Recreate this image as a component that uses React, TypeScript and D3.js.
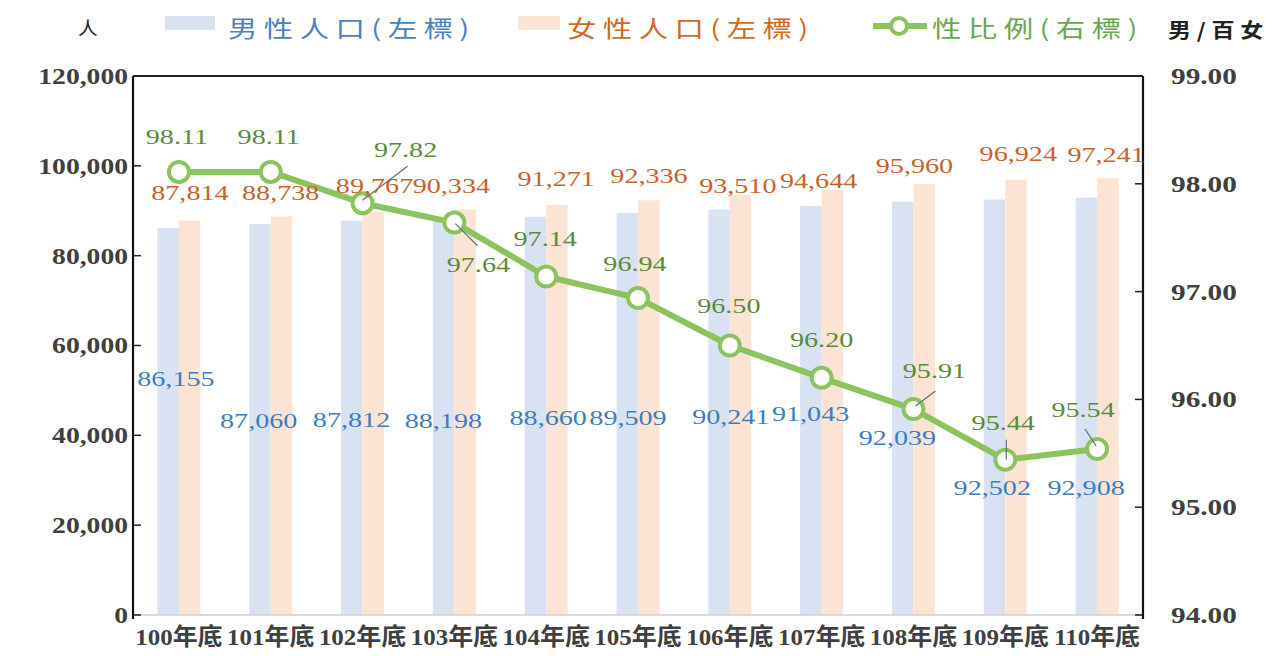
import React from "react";
import * as d3 from "d3";

const categories = ["100年底", "101年底", "102年底", "103年底", "104年底", "105年底", "106年底", "107年底", "108年底", "109年底", "110年底"];
const male = [86155, 87060, 87812, 88198, 88660, 89509, 90241, 91043, 92039, 92502, 92908];
const female = [87814, 88738, 89767, 90334, 91271, 92336, 93510, 94644, 95960, 96924, 97241];
const ratio = [98.11, 98.11, 97.82, 97.64, 97.14, 96.94, 96.5, 96.2, 95.91, 95.44, 95.54];
const leftTicks = [0, 20000, 40000, 60000, 80000, 100000, 120000];
const rightTicks = [94, 95, 96, 97, 98, 99];

// label layout offsets (dx, dy) relative to each mark
const ratioLabelOffset = [[-2, -36], [-2, -36], [43, -54], [24, 42], [-1, -38], [-3, -35], [-1, -40], [0, -39], [21, -39], [-2, -38], [-14, -40]];
const femaleLabelOffset = [[11, -28], [10, -24], [12, -27], [-3, -24], [10, -27], [11, -25], [8, -10], [-3, -10], [1, -19], [13, -26], [9, -24]];
const maleLabelOffset = [[-3, 150], [-12, 196], [-11, 199], [-11, 201], [2, 200], [-10, 204], [1, 206], [-11, 207], [-16, 236], [-13, 288], [-11, 289]];
const ratioLeader: (number[] | null)[] = [null, null, [0, -3, 45, -37], [1, 1, 23, 23], null, null, null, null, [2, -3, 22, -18], [1, -20, 1, 0], [-12, -20, -1, -3]];

const W = 1282, H = 656;
const L = 133, R = 1143, T = 76, B = 615;

const SERIF = "'Liberation Serif', 'Times New Roman', 'Noto Sans CJK TC', serif";
const CJK = "'Noto Sans CJK TC', 'Noto Sans CJK SC', sans-serif";

function SText(props: any) {
  const { x, y, sx = 1, children, ...rest } = props;
  return (
    <g transform={`translate(${x},${y}) scale(${sx},1)`}>
      <text x={0} y={0} dominantBaseline="central" {...rest}>{children}</text>
    </g>
  );
}

export default function App() {
  const x = d3.scaleBand().domain(categories).range([L, R]).padding(0);
  const yL = d3.scaleLinear().domain([0, 120000]).range([B, T]);
  const yR = d3.scaleLinear().domain([94, 99]).range([B, T]);
  const bw = 21.5;
  const cx = (c: string) => (x(c) as number) + x.bandwidth() / 2;
  const fmtN = d3.format(",");
  const fmtR = d3.format(".2f");
  const line = d3.line<number>().x((_, i) => cx(categories[i])).y((d) => yR(d));

  const blueBar = "#d9e2f3";
  const orangeBar = "#fce4d4";
  const green = "#8dc35e";
  const blueTxt = "#3d7dbf";
  const orangeTxt = "#c8622a";
  const greenTxt = "#5a8a3a";
  const axisTxt = "#404040";

  return (
    <svg width={W} height={H} style={{ position: "absolute", left: 0, top: 0, background: "#fff" }}>
      <rect x={0} y={0} width={W} height={H} fill="#fff" />
      {categories.map((c, i) => (
        <g key={c}>
          <rect x={cx(c) - bw} y={yL(male[i])} width={bw} height={B - yL(male[i])} fill={blueBar} />
          <rect x={cx(c)} y={yL(female[i])} width={bw} height={B - yL(female[i])} fill={orangeBar} />
        </g>
      ))}
      <line x1={L} x2={R} y1={B} y2={B} stroke="#d0d0d0" strokeWidth={1.5} />
      <line x1={L} x2={R} y1={T} y2={T} stroke="#222" strokeWidth={2} />
      <line x1={L} x2={L} y1={T} y2={B + 4} stroke="#111" strokeWidth={2.2} />
      <line x1={R} x2={R} y1={T} y2={B + 4} stroke="#111" strokeWidth={2.2} />
      {leftTicks.map((t) => (
        <g key={"l" + t}>
          <line x1={L} x2={L + 8} y1={yL(t)} y2={yL(t)} stroke="#222" strokeWidth={1.5} />
          <SText x={128} y={yL(t)} sx={1.15} textAnchor="end" fontFamily={SERIF} fontWeight="bold" fontSize={24} fill={axisTxt}>{fmtN(t)}</SText>
        </g>
      ))}
      {rightTicks.map((t) => (
        <g key={"r" + t}>
          <line x1={R - 8} x2={R} y1={yR(t)} y2={yR(t)} stroke="#222" strokeWidth={1.5} />
          <SText x={1171} y={yR(t)} sx={1.22} textAnchor="start" fontFamily={SERIF} fontWeight="bold" fontSize={24} fill={axisTxt}>{fmtR(t)}</SText>
        </g>
      ))}
      {categories.map((c) => (
        <SText key={"x" + c} x={cx(c)} y={637} sx={1.04} textAnchor="middle" fontFamily={SERIF} fontWeight="bold" fontSize={24} fill={axisTxt}>{c}</SText>
      ))}
      <path d={line(ratio) || ""} fill="none" stroke={green} strokeWidth={6} strokeLinejoin="round" />
      {ratio.map((v, i) => {
        const ld = ratioLeader[i];
        const px = cx(categories[i]);
        const py = yR(v);
        return (
          <g key={"m" + i}>
            <circle cx={px} cy={py} r={10} fill="#fff" stroke={green} strokeWidth={4} />
            {ld && <line x1={px + ld[0]} y1={py + ld[1]} x2={px + ld[2]} y2={py + ld[3]} stroke="#5d6b7e" strokeWidth={1.2} />}
          </g>
        );
      })}
      {categories.map((c, i) => (
        <SText key={"fl" + i} x={cx(c) + femaleLabelOffset[i][0]} y={yL(female[i]) + femaleLabelOffset[i][1]} sx={1.28} textAnchor="middle" fontFamily={SERIF} fontSize={22} fill={orangeTxt}>{fmtN(female[i])}</SText>
      ))}
      {categories.map((c, i) => (
        <SText key={"ml" + i} x={cx(c) + maleLabelOffset[i][0]} y={yL(male[i]) + maleLabelOffset[i][1]} sx={1.28} textAnchor="middle" fontFamily={SERIF} fontSize={22} fill={blueTxt}>{fmtN(male[i])}</SText>
      ))}
      {categories.map((c, i) => (
        <SText key={"rl" + i} x={cx(c) + ratioLabelOffset[i][0]} y={yR(ratio[i]) + ratioLabelOffset[i][1]} sx={1.28} textAnchor="middle" fontFamily={SERIF} fontSize={22} fill={greenTxt}>{fmtR(ratio[i])}</SText>
      ))}
      <SText x={88} y={27} sx={1.1} textAnchor="middle" fontFamily={CJK} fontSize={18} fill="#222">人</SText>
      <rect x={165} y={16} width={50} height={14} fill={blueBar} />
      <SText x={228} y={27} sx={1.28} textAnchor="start" fontFamily={CJK} fontSize={23} letterSpacing={5} fill="#4f81bd">男性人口(左標)</SText>
      <rect x={518} y={16} width={42} height={14} fill={orangeBar} />
      <SText x={567} y={27} sx={1.28} textAnchor="start" fontFamily={CJK} fontSize={23} letterSpacing={5} fill="#d2691e">女性人口(左標)</SText>
      <line x1={873} x2={927} y1={26} y2={26} stroke={green} strokeWidth={6} />
      <circle cx={899} cy={26} r={8} fill="#fff" stroke={green} strokeWidth={4} />
      <SText x={932} y={27} sx={1.28} textAnchor="start" fontFamily={CJK} fontSize={23} letterSpacing={5} fill="#6aa84f">性比例(右標)</SText>
      <SText x={1168} y={29} sx={1.15} textAnchor="start" fontFamily={CJK} fontWeight="bold" fontSize={20} letterSpacing={5} fill="#222">男/百女</SText>
    </svg>
  );
}
